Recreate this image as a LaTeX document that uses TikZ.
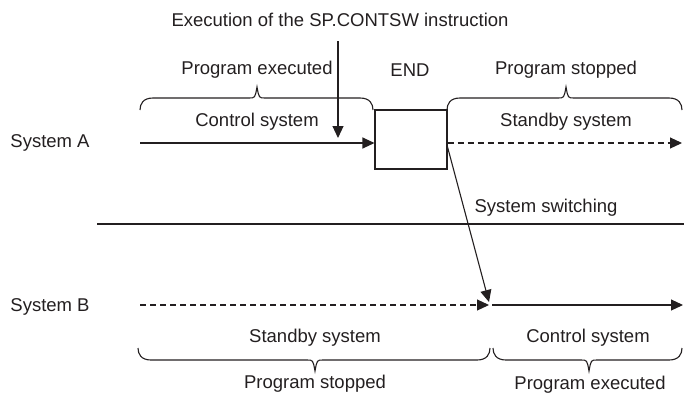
\documentclass[tikz,border=0pt]{standalone}
\usepackage{fontspec}
\setmainfont{Liberation Sans}
\usetikzlibrary{arrows.meta}
\definecolor{ink}{HTML}{231F20}
\newcommand\bracepath[6]{% x1, x2, xm, yend, yh, ytip
  \draw[line] (#1,#4) .. controls (#1,{(#4+#5)/2}) and ({#1+3},#5) .. ({#1+13},#5) -- ({#3-8},#5)
    .. controls ({#3-2},#5) .. (#3,#6) .. controls ({#3+2},#5) .. ({#3+8},#5)
    -- ({#2-13},#5) .. controls ({#2-3},#5) and (#2,{(#4+#5)/2}) .. (#2,#4);}
\begin{document}
\begin{tikzpicture}[x=1pt,y=-1pt,
  txt/.style={text=ink,font=\fontsize{18.5}{22}\selectfont,inner sep=0pt},
  line/.style={draw=ink,line width=1.1pt},
  arr/.style={line,-{Triangle[length=12pt,width=11pt]}},
  dsh/.style={arr,dash pattern=on 6pt off 4pt},
  endbox/.style={draw=ink,line width=1.1pt,minimum width=72pt,minimum height=59pt,inner sep=0pt}]
\useasboundingbox (0,0) rectangle (684,394);
% texts
\node[txt] (title) at (340,20) {Execution of the SP.CONTSW instruction};
\node[txt] (pe1) at (257,70) {Program executed};
\node[txt] (endt) at (410,70) {END};
\node[txt] (ps1) at (566,70) {Program stopped};
\node[txt] (cs1) at (257,122) {Control system};
\node[txt] (sb1) at (566,122) {Standby system};
\node[txt] (sysA) at (50,143) {System A};
\node[txt] (sysB) at (50,307) {System B};
\node[txt] (swt) at (546,208) {System switching};
\node[txt] (sb2) at (315,338) {Standby system};
\node[txt] (cs2) at (588,338) {Control system};
\node[txt] (ps2) at (315,384) {Program stopped};
\node[txt] (pe2) at (590,385) {Program executed};
% END box
\node[endbox] (box) at (411,139.5) {};
% coordinates
\coordinate (aS) at (140,143);
\coordinate (aE) at (682,143);
\coordinate (bS) at (140,305);
\coordinate (bM) at (489,305);
\coordinate (bM2) at (492,305);
\coordinate (bE) at (683,305);
\coordinate (swS) at (447,145);
\coordinate (swE) at (489,302);
\coordinate (vS) at (338,41);
\coordinate (vE) at (338,138);
\coordinate (hS) at (97,224);
\coordinate (hE) at (684,224);
% connectors
\draw[arr] (aS) -- (aS -| box.west);
\draw[dsh] (aE -| box.east) -- (aE);
\draw[arr] (vS) -- (vE);
\draw[arr] (swS) -- (swE);
\draw[dsh] (bS) -- (bM);
\draw[arr] (bM2) -- (bE);
\draw[line] (hS) -- (hE);
% braces
\bracepath{140}{373}{257}{110}{98}{87}
\bracepath{447}{682}{566}{110}{98}{87}
\bracepath{138}{490}{315}{348}{360}{371}
\bracepath{493}{682}{589}{348}{360}{371}
\end{tikzpicture}
\end{document}
